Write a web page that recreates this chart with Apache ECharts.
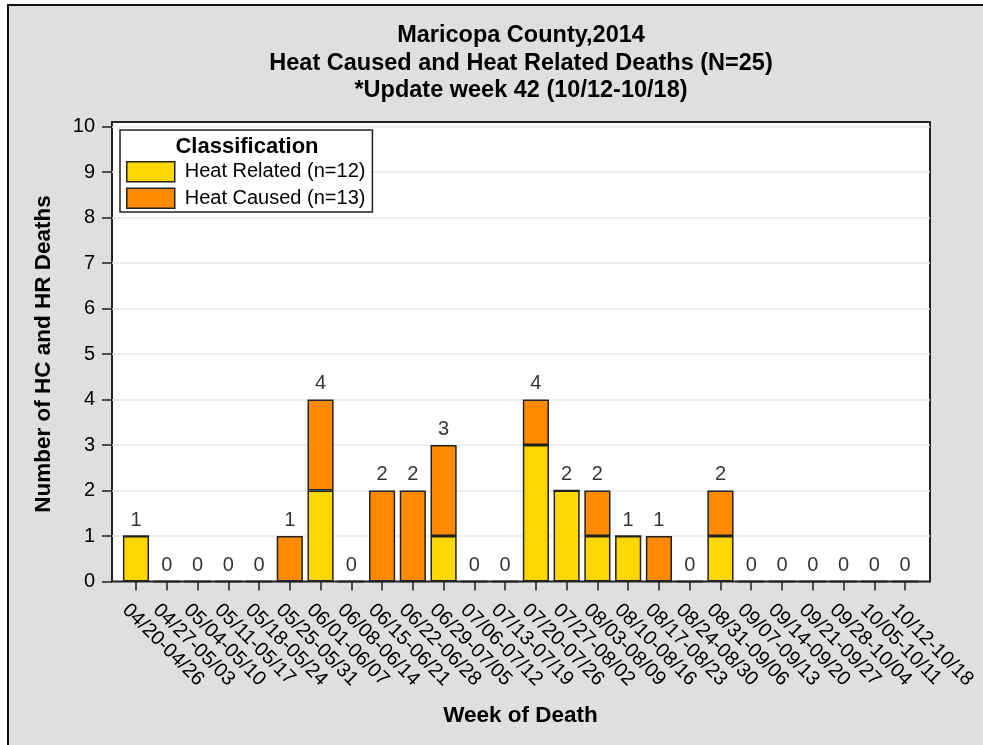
<!DOCTYPE html>
<html><head><meta charset="utf-8">
<script src="https://cdn.jsdelivr.net/npm/echarts@6/dist/echarts.min.js"></script>
<style>
html,body{margin:0;padding:0;background:#fff;overflow:hidden;width:983px;height:745px;}
#frame{position:absolute;left:7px;top:4px;width:1100px;height:900px;background:#dfdfdf;border-left:2px solid #111;border-top:2px solid #111;}
#main{position:absolute;left:0;top:0;width:983px;height:745px;}
</style></head><body>
<div id="frame"></div><div id="main"></div>
<script>
const weeks = ['04/20-04/26','04/27-05/03','05/04-05/10','05/11-05/17','05/18-05/24','05/25-05/31',
  '06/01-06/07','06/08-06/14','06/15-06/21','06/22-06/28','06/29-07/05','07/06-07/12','07/13-07/19',
  '07/20-07/26','07/27-08/02','08/03-08/09','08/10-08/16','08/17-08/23','08/24-08/30','08/31-09/06',
  '09/07-09/13','09/14-09/20','09/21-09/27','09/28-10/04','10/05-10/11','10/12-10/18'];
const heatRelated = [1,0,0,0,0,0,2,0,0,0,1,0,0,3,2,1,1,0,0,1,0,0,0,0,0,0];
const heatCaused  = [0,0,0,0,0,1,2,0,2,2,2,0,0,1,0,1,0,1,0,1,0,0,0,0,0,0];
const yMin = 0, yMax = 10, yInterval = 1;
const titleLines = ['Maricopa County,2014','Heat Caused and Heat Related Deaths (N=25)','*Update week 42 (10/12-10/18)'];

const FONT = "'Liberation Sans', Arial, Helvetica, sans-serif";
const sum = a => a.reduce((s,v)=>s+v,0);
const totals = heatRelated.map((v,i)=>v+heatCaused[i]);
const nameRelated = 'Heat Related (n=' + sum(heatRelated) + ')';
const nameCaused = 'Heat Caused (n=' + sum(heatCaused) + ')';
const barBorder = {borderColor:'#222', borderWidth:1.5};

const chart = echarts.init(document.getElementById('main'), null, {renderer:'canvas'});
const titleGraphics = titleLines.map((t,i)=>({
  type:'text', x:521, y:36 + i*27.5, z:100,
  style:{text:t, fontFamily:FONT, fontSize:23.5, fontWeight:'bold', fill:'#000', align:'center', verticalAlign:'middle'}
}));
const option = {
  animation:false,
  backgroundColor:'transparent',
  textStyle:{fontFamily:FONT},
  grid:[
    {left:112, right:53, top:122, bottom:163.5, show:true, backgroundColor:'#fff', borderColor:'#222', borderWidth:2},
    {left:120.6, right:62.6, top:126.5, bottom:163.5}
  ],
  xAxis:[
    {gridIndex:0, type:'value', show:false, min:0, max:1},
    {gridIndex:1, type:'category', data:weeks,
      axisLine:{show:false},
      axisTick:{show:true, alignWithLabel:true, length:9, lineStyle:{color:'#222', width:1.5}},
      axisLabel:{rotate:-45, interval:0, fontSize:20, color:'#000', margin:15, verticalAlign:'top', padding:[5,0,0,0], fontFamily:FONT},
      name:'Week of Death', nameLocation:'middle', nameGap:123,
      nameTextStyle:{fontSize:22.5, fontWeight:'bold', color:'#000', fontFamily:FONT}}
  ],
  yAxis:[
    {gridIndex:0, type:'value', min:0, max:10.1, interval:1,
      axisLine:{show:false}, axisTick:{show:false}, axisLabel:{show:false},
      splitLine:{show:true, showMinLine:false, showMaxLine:false, lineStyle:{color:'#e8e8e8', width:1.5}}},
    {gridIndex:1, type:'value', min:yMin, max:yMax, interval:yInterval, offset:8.6,
      axisLine:{show:false},
      axisTick:{show:true, length:10, lineStyle:{color:'#222', width:1.5}},
      axisLabel:{fontSize:20, color:'#000', margin:17, fontFamily:FONT},
      splitLine:{show:false},
      name:'Number of HC and HR Deaths', nameLocation:'middle', nameGap:57, nameRotate:90,
      nameTextStyle:{fontSize:22.5, fontWeight:'bold', color:'#000', fontFamily:FONT}}
  ],
  legend:{
    data:[nameRelated, nameCaused], orient:'vertical', left:120, top:130,
    padding:[31,7,3,6], itemWidth:48, itemHeight:20, itemGap:5,
    borderColor:'#222', borderWidth:1.5, backgroundColor:'#fff', borderRadius:0,
    icon:'rect', selectedMode:false,
    textStyle:{fontSize:20, color:'#000', fontFamily:FONT, padding:[0,0,0,5]},
    itemStyle:{borderColor:'#222', borderWidth:1.5}
  },
  graphic:titleGraphics.concat([
    {type:'text', x:247, y:147, z:100,
      style:{text:'Classification', fontFamily:FONT, fontSize:22, fontWeight:'bold', fill:'#000', align:'center', verticalAlign:'middle'}}
  ]),
  series:[
    {name:nameRelated, type:'bar', xAxisIndex:1, yAxisIndex:1, stack:'t', data:heatRelated, barWidth:'85%',
      itemStyle:Object.assign({color:'#FFD700'}, barBorder)},
    {name:nameCaused, type:'bar', xAxisIndex:1, yAxisIndex:1, stack:'t', data:heatCaused, barWidth:'85%',
      itemStyle:Object.assign({color:'#FF8A00'}, barBorder)},
    {name:'total', type:'scatter', xAxisIndex:1, yAxisIndex:1, data:totals, symbolSize:0, silent:true,
      label:{show:true, position:'top', distance:6, formatter:p=>String(totals[p.dataIndex]), fontSize:20, color:'#000', fontFamily:FONT}}
  ]
};
chart.setOption(option);
</script>
</body></html>
